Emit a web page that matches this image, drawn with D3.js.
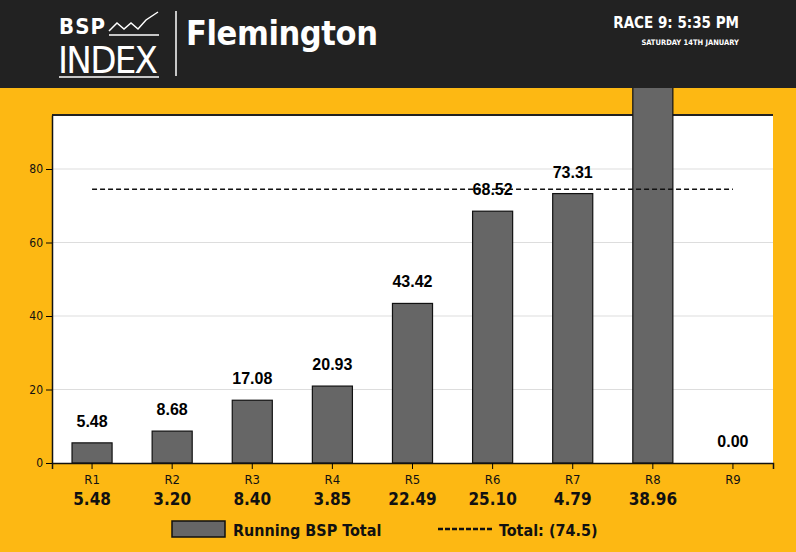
<html>
<head>
<script src="https://d3js.org/d3.v7.min.js"></script>
<style>
  body{margin:0;background:#FDB813;}
  svg{display:block;}
  .cond{font-family:"Liberation Sans Narrow","DejaVu Sans Condensed",sans-serif;}
</style>
</head>
<body>
<script>
var races = ["R1","R2","R3","R4","R5","R6","R7","R8","R9"];
var raceBsp = ["5.48","3.20","8.40","3.85","22.49","25.10","4.79","38.96",""];
var running = [5.48, 8.68, 17.08, 20.93, 43.42, 68.52, 73.31, 112.27, 0];
var total = 74.5;
var yTicks = [0, 20, 40, 60, 80];

var W = 796, H = 552;
var m = {top: 115, right: 23, bottom: 89, left: 52};
var svg = d3.select("body").append("svg").attr("width", W).attr("height", H);
svg.append("rect").attr("width", W).attr("height", H).attr("fill", "#FDB813");

var w = W - m.left - m.right, h = H - m.top - m.bottom;
var x = d3.scaleBand().domain(races).range([0, w]).paddingInner(0.5).paddingOuter(0.25);
var y = d3.scaleLinear().domain([0, 80 * h / 294]).range([h, 0]);

var g = svg.append("g").attr("transform", "translate(" + m.left + "," + m.top + ")");
g.append("rect").attr("width", w).attr("height", h).attr("fill", "#fff");
g.selectAll(".grid").data(yTicks.slice(1)).enter().append("line")
  .attr("x1", 0).attr("x2", w).attr("y1", d => y(d)).attr("y2", d => y(d))
  .attr("stroke", "#ddd");
g.append("line").attr("x1", 0).attr("x2", w).attr("y1", 0).attr("y2", 0).attr("stroke", "#222").attr("stroke-width", 2);

// bars (allowed to run past top, under header)
g.selectAll(".bar").data(running).enter().append("rect")
  .attr("x", (d, i) => x(races[i]))
  .attr("width", x.bandwidth())
  .attr("y", d => y(d))
  .attr("height", d => h - y(d))
  .attr("fill", "#666").attr("stroke", "#111").attr("stroke-width", 1.2);

g.selectAll(".val").data(running).enter().append("text")
  .attr("x", (d, i) => x(races[i]) + x.bandwidth() / 2)
  .attr("y", d => y(d) - 16)
  .attr("text-anchor", "middle")
  .attr("font-family", "Liberation Sans, Arial, sans-serif")
  .attr("font-weight", "bold").attr("font-size", 16)
  .text(d => d.toFixed(2));

g.append("line")
  .attr("x1", x(races[0]) + x.bandwidth() / 2)
  .attr("x2", x(races[8]) + x.bandwidth() / 2)
  .attr("y1", y(total)).attr("y2", y(total))
  .attr("stroke", "#111").attr("stroke-width", 1.6).attr("stroke-dasharray", "5,3");

var ya = g.append("g").call(d3.axisLeft(y).tickValues(yTicks).tickSize(6).tickSizeOuter(0));
ya.select(".domain").attr("stroke", "#111").attr("stroke-width", 1.5);
ya.selectAll("text").attr("class", "cond").attr("font-size", 12).attr("fill", "#111");

var xa = g.append("g").attr("transform", "translate(0," + h + ")")
  .call(d3.axisBottom(x).tickSize(6).tickSizeOuter(6));
xa.select(".domain").attr("stroke", "#111").attr("stroke-width", 1.5);
xa.selectAll("text").attr("class", "cond").attr("font-size", 13).attr("fill", "#111").attr("dy", "0.9em");
xa.selectAll(".tick").append("text").data(raceBsp)
  .attr("class", "cond").attr("y", 42).attr("text-anchor", "middle")
  .attr("font-size", 17).attr("font-weight", "bold").attr("fill", "#111")
  .text(d => d);

// legend
var lg = svg.append("g").attr("class", "cond").attr("font-weight", "bold").attr("font-size", 16).attr("fill", "#111");
lg.append("rect").attr("x", 172).attr("y", 521).attr("width", 53).attr("height", 16)
  .attr("fill", "#666").attr("stroke", "#111").attr("stroke-width", 1.5);
lg.append("text").attr("x", 233).attr("y", 536).text("Running BSP Total");
lg.append("line").attr("x1", 438).attr("x2", 492).attr("y1", 529).attr("y2", 529)
  .attr("stroke", "#111").attr("stroke-width", 2.5).attr("stroke-dasharray", "5,2");
lg.append("text").attr("x", 499).attr("y", 536).text("Total: (74.5)");

// header
var hd = svg.append("g");
hd.append("rect").attr("width", W).attr("height", 88).attr("fill", "#222");
hd.append("text").attr("class", "cond").attr("x", 59).attr("y", 34).attr("fill", "#fff")
  .attr("font-weight", "bold").attr("font-size", 22).attr("textLength", 46).text("BSP");
hd.append("path").attr("d", "M109,31 L117,23 L124,29 L131,23 L138,29 L146,20 L158,12")
  .attr("fill", "none").attr("stroke", "#fff").attr("stroke-width", 1.5);
hd.append("line").attr("x1", 109).attr("x2", 159).attr("y1", 35).attr("y2", 35).attr("stroke", "#fff").attr("stroke-width", 1.5);
hd.append("text").attr("class", "cond").attr("x", 58).attr("y", 73).attr("fill", "#fff")
  .attr("font-size", 38).attr("textLength", 100).text("INDEX");
hd.append("line").attr("x1", 59).attr("x2", 159).attr("y1", 77).attr("y2", 77).attr("stroke", "#fff").attr("stroke-width", 1.5);
hd.append("line").attr("x1", 176).attr("x2", 176).attr("y1", 11).attr("y2", 76).attr("stroke", "#fff").attr("stroke-width", 1.5);
hd.append("text").attr("class", "cond").attr("x", 186).attr("y", 45).attr("fill", "#fff")
  .attr("font-weight", "bold").attr("font-size", 34).attr("textLength", 192).text("Flemington");
hd.append("text").attr("class", "cond").attr("x", 739).attr("y", 28).attr("fill", "#fff")
  .attr("text-anchor", "end").attr("font-weight", "bold").attr("font-size", 15).text("RACE 9: 5:35 PM");
hd.append("text").attr("class", "cond").attr("x", 739).attr("y", 45).attr("fill", "#fff")
  .attr("text-anchor", "end").attr("font-weight", "bold").attr("font-size", 7.5).text("SATURDAY 14TH JANUARY");
</script>
</body>
</html>
